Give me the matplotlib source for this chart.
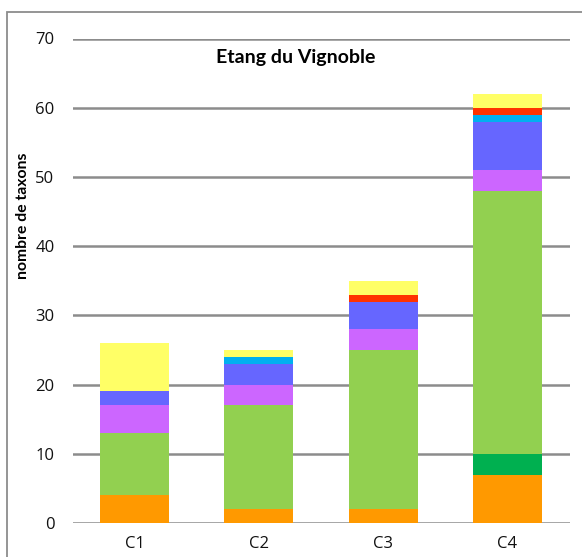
import matplotlib
matplotlib.use("Agg")
import matplotlib.pyplot as plt
from matplotlib.patches import Rectangle

plt.rcParams['font.family'] = ['Lato', 'DejaVu Sans']

categories = ['C1', 'C2', 'C3', 'C4']

# taxa counts per group, stacked from bottom to top
orange = [4, 2, 2, 7]
dark_green = [0, 0, 0, 3]
light_green = [9, 15, 23, 38]
violet = [4, 3, 3, 3]
blue = [2, 3, 4, 7]
cyan = [0, 1, 0, 1]
red = [0, 0, 1, 1]
yellow = [7, 1, 2, 2]

series = [orange, dark_green, light_green, violet, blue, cyan, red, yellow]
colors = ['#FF9900', '#00B050', '#92D050', '#CC66FF', '#6666FF',
          '#00B0F0', '#FF3300', '#FFFF66']

W, H = 582, 557
fig = plt.figure(figsize=(W / 100, H / 100), dpi=100)

# chart frame (runs off the right and bottom edges)
fig.patches.append(Rectangle((7 / W, -0.1), 1.2, 1 - 11.5 / H + 0.1,
                             transform=fig.transFigure, fill=False,
                             edgecolor='#8c8c8c', linewidth=1.3))

ax = fig.add_axes([72.5 / W, 1 - 523 / H, (569.5 - 72.5) / W, (523 - 38.5) / H])

x = range(len(categories))
bottom = [0] * len(categories)
for vals, col in zip(series, colors):
    ax.bar(x, vals, bottom=bottom, width=0.555, color=col, zorder=3)
    bottom = [b + v for b, v in zip(bottom, vals)]

ax.set_ylim(0, 70)
ax.set_xlim(-0.5, 3.5)
ax.set_yticks(range(0, 71, 10))
ax.set_xticks(list(x))
ax.set_xticklabels(categories)
ax.yaxis.grid(True, color='#8c8c8c', linewidth=1.8, zorder=0)
ax.set_axisbelow(True)
for s in ax.spines.values():
    s.set_visible(False)
ax.tick_params(axis='both', length=0, labelsize=12, colors='#111111')
for lab in ax.get_yticklabels() + ax.get_xticklabels():
    lab.set_family(['Open Sans', 'DejaVu Sans'])
ax.tick_params(axis='y', pad=13)
ax.tick_params(axis='x', pad=9)

fig.text(23 / W, 1 - 216 / H, 'nombre de taxons', fontsize=11.3,
         fontweight='bold', rotation=90, ha='center', va='center')
fig.text(295.5 / W, 1 - 57 / H, 'Etang du Vignoble', fontsize=14,
         fontweight='bold', ha='center', va='center')

fig.savefig('out.png', dpi=100)
